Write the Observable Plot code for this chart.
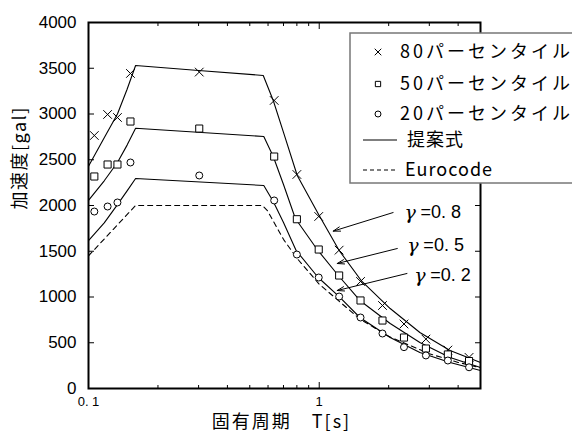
<!DOCTYPE html>
<html><head><meta charset="utf-8">
<script src="https://cdn.jsdelivr.net/npm/d3@7"></script>
<script src="https://cdn.jsdelivr.net/npm/@observablehq/plot@0.6"></script>
<style>
html,body{margin:0;padding:0;background:#fff;}
#chart svg{display:block;}
</style>
</head><body><div id="chart"></div>
<script>
// ---- data ----
const markerT = [0.106, 0.121, 0.1335, 0.152, 0.302, 0.638, 0.80, 0.995, 1.22, 1.51, 1.88, 2.33, 2.90, 3.61, 4.46];
const p80 = [2765, 2995, 2962, 3443, 3458, 3148, 2339, 1880, 1512, 1170, 907, 705, 540, 420, 340];
const p50 = [2317, 2448, 2448, 2918, 2841, 2535, 1850, 1519, 1235, 962, 743, 557, 437, 372, 300];
const p20 = [1934, 1989, 2033, 2470, 2328, 2055, 1464, 1213, 1005, 776, 601, 452, 361, 306, 232];

const g08T = [0.1, 0.117, 0.1335, 0.147, 0.16, 0.3, 0.572, 0.632, 0.70, 0.803, 0.99, 1.22, 1.52, 2.03, 2.73, 3.69, 5];
const g08V = [2430, 2740, 3000, 3270, 3530, 3475, 3421, 3148, 2800, 2328, 1910, 1508, 1180, 874, 612, 415, 284];
const g05T = [0.1, 0.117, 0.1335, 0.147, 0.16, 0.575, 0.632, 0.70, 0.788, 0.98, 1.21, 1.50, 2.03, 2.73, 3.69, 5];
const g05V = [2055, 2270, 2470, 2660, 2845, 2754, 2536, 2230, 1858, 1519, 1235, 962, 710, 503, 339, 230];
const g02T = [0.1, 0.117, 0.1335, 0.147, 0.16, 0.575, 0.632, 0.70, 0.794, 0.99, 1.22, 1.50, 2.03, 2.73, 3.69, 5];
const g02V = [1617, 1810, 2010, 2160, 2295, 2219, 2044, 1814, 1508, 1213, 1005, 776, 557, 393, 284, 197];
const euroT = [0.1, 0.16, 0.567, 0.596, 0.7, 0.8, 1.0, 1.5, 2.0, 3.0, 4.0, 5.0];
const euroV = [1450, 2000, 2000, 1945, 1630, 1425, 1140, 760, 570, 380, 285, 228];

const yTicks = [0, 500, 1000, 1500, 2000, 2500, 3000, 3500, 4000];
const xMajor = [0.1, 1];
const xMinor = [0.2, 0.3, 0.4, 0.5, 0.6, 0.7, 0.8, 0.9, 2, 3, 4];
const xTickLabels = ["0. 1", "1"];

const gammaNames = ["=0. 8", "=0. 5", "=0. 2"];
const gammaTextT = [2.34, 2.41, 2.58];
const gammaTextV = [1923, 1563, 1235];
const arrowT1 = [2.09, 2.18, 2.40];
const arrowV1 = [1923, 1530, 1257];
const arrowT2 = [1.15, 1.197, 1.197];
const arrowV2 = [1720, 1366, 1071];

const legendLabels = ["80パーセンタイル", "50パーセンタイル", "20パーセンタイル", "提案式", "Eurocode"];
const xTitle = "固有周期\u3000T[s]";
const yTitle = "加速度[gal]";

// ---- tables ----
const mk = (T, V) => T.map((t, i) => ({T: t, v: V[i]}));
const curves = [mk(g08T, g08V), mk(g05T, g05V), mk(g02T, g02V)];
const euro = mk(euroT, euroV);
const d80 = mk(markerT, p80), d50 = mk(markerT, p50), d20 = mk(markerT, p20);
const gammas = gammaNames.map((n, i) => ({name: n, T: gammaTextT[i], v: gammaTextV[i]}));
const arrows = arrowT1.map((t, i) => ({x1: t, y1: arrowV1[i], x2: arrowT2[i], y2: arrowV2[i]}));

const JP = "'Noto Sans CJK JP', sans-serif";
const LAT = "'Liberation Sans', Arial, sans-serif";
const noLabel = {label: null};

const chart = Plot.plot({
  width: 572, height: 432,
  marginLeft: 88, marginRight: 92, marginTop: 22, marginBottom: 44,
  x: {type: "log", domain: [0.1, 5]},
  y: {domain: [0, 4000]},
  style: {fontFamily: LAT, fontSize: "17px", color: "#000", background: "#fff", overflow: "visible"},
  marks: [
    ...curves.map(c => Plot.line(c, {x: "T", y: "v", stroke: "#000", strokeWidth: 1.1})),
    Plot.line(euro, {x: "T", y: "v", stroke: "#000", strokeWidth: 1.1, strokeDasharray: "5,4"}),
    Plot.dot(d80, {x: "T", y: "v", symbol: "times", r: 4, stroke: "#000", strokeWidth: 1}),
    Plot.dot(d50, {x: "T", y: "v", symbol: "square", r: 4, stroke: "#000", fill: "#fff", strokeWidth: 1}),
    Plot.dot(d20, {x: "T", y: "v", symbol: "circle", r: 3.5, stroke: "#000", fill: "#fff", strokeWidth: 1}),
    Plot.arrow(arrows, {x1: "x1", y1: "y1", x2: "x2", y2: "y2", stroke: "#000", strokeWidth: 1, headLength: 11, headAngle: 35}),
    Plot.text(gammas, {x: "T", y: "v", text: () => "γ", textAnchor: "start", fontSize: 19, fontStyle: "italic", fontFamily: "'DejaVu Serif', serif"}),
    Plot.text(gammas, {x: "T", y: "v", text: "name", textAnchor: "start", dx: 16, fontSize: 18, fontFamily: LAT}),
    // y labels and inward ticks
    Plot.axisY({anchor: "left", ticks: yTicks, tickSize: 0, tickPadding: 12, fontSize: 17, tickFormat: d => String(d), ...noLabel}),
    Plot.axisY({anchor: "left", ticks: yTicks, tickSize: 6, dx: 6, fill: "none", ...noLabel}),
    Plot.axisY({anchor: "right", ticks: yTicks, tickSize: 6, dx: -6, fill: "none", ...noLabel}),
    // x labels and inward ticks
    Plot.axisX({anchor: "bottom", ticks: xMajor, tickSize: 0, tickPadding: 8, fontSize: 13, fontFamily: LAT, tickFormat: d => xTickLabels[d < 0.5 ? 0 : 1], ...noLabel}),
    Plot.axisX({anchor: "bottom", ticks: xMajor, tickSize: 6, dy: -6, fill: "none", ...noLabel}),
    Plot.axisX({anchor: "bottom", ticks: xMinor, tickSize: 3, dy: -3, fill: "none", ...noLabel}),
    Plot.axisX({anchor: "top", ticks: xMajor, tickSize: 6, dy: 6, fill: "none", ...noLabel}),
    Plot.axisX({anchor: "top", ticks: xMinor, tickSize: 3, dy: 3, fill: "none", ...noLabel}),
    Plot.frame({stroke: "#000", strokeWidth: 2}),
    Plot.text([xTitle], {frameAnchor: "bottom", lineAnchor: "middle", dy: 34, dx: -3, fontSize: 18, fontFamily: JP, text: d => d}),
    Plot.text([yTitle], {frameAnchor: "left", lineAnchor: "middle", dx: -68, dy: 4, rotate: -90, fontSize: 18, fontFamily: JP, text: d => d})
  ]
});
document.getElementById("chart").appendChild(chart);

const svg = d3.select(chart);
svg.selectAll("text").filter(function() { return this.textContent === xTitle; }).attr("letter-spacing", "2px");
svg.selectAll("text").filter(function() { return this.textContent === yTitle; }).attr("letter-spacing", "1.5px");

// ---- legend (drawn inside the same svg) ----
const lg = svg.append("g").attr("class", "legend");
lg.append("rect").attr("x", 350).attr("y", 33).attr("width", 240).attr("height", 150)
  .attr("fill", "#fff").attr("stroke", "#777").attr("stroke-width", 1.5);
const rowY = [52, 84, 114, 140, 170];
const symbols = [d3.symbolTimes, d3.symbolSquare, d3.symbolCircle];
legendLabels.forEach((lab, i) => {
  const y = rowY[i];
  if (i < 3) {
    lg.append("path").attr("transform", `translate(378,${y})`)
      .attr("d", d3.symbol(symbols[i], i === 0 ? 30 : 28)())
      .attr("fill", "#fff").attr("stroke", "#000").attr("stroke-width", 1);
  } else {
    lg.append("line").attr("x1", 363).attr("x2", 397).attr("y1", y).attr("y2", y)
      .attr("stroke", "#000").attr("stroke-width", 1.1)
      .attr("stroke-dasharray", i === 4 ? "4,3" : null);
  }
  lg.append("text").attr("x", i < 3 ? 400 : (i === 3 ? 407 : 405)).attr("y", y)
    .attr("dy", "0.36em").attr("text-anchor", "start").attr("font-family", JP).attr("font-size", 18)
    .attr("letter-spacing", i < 3 ? "3px" : "1px").attr("fill", "#000").text(lab);
});
</script>
</body></html>
